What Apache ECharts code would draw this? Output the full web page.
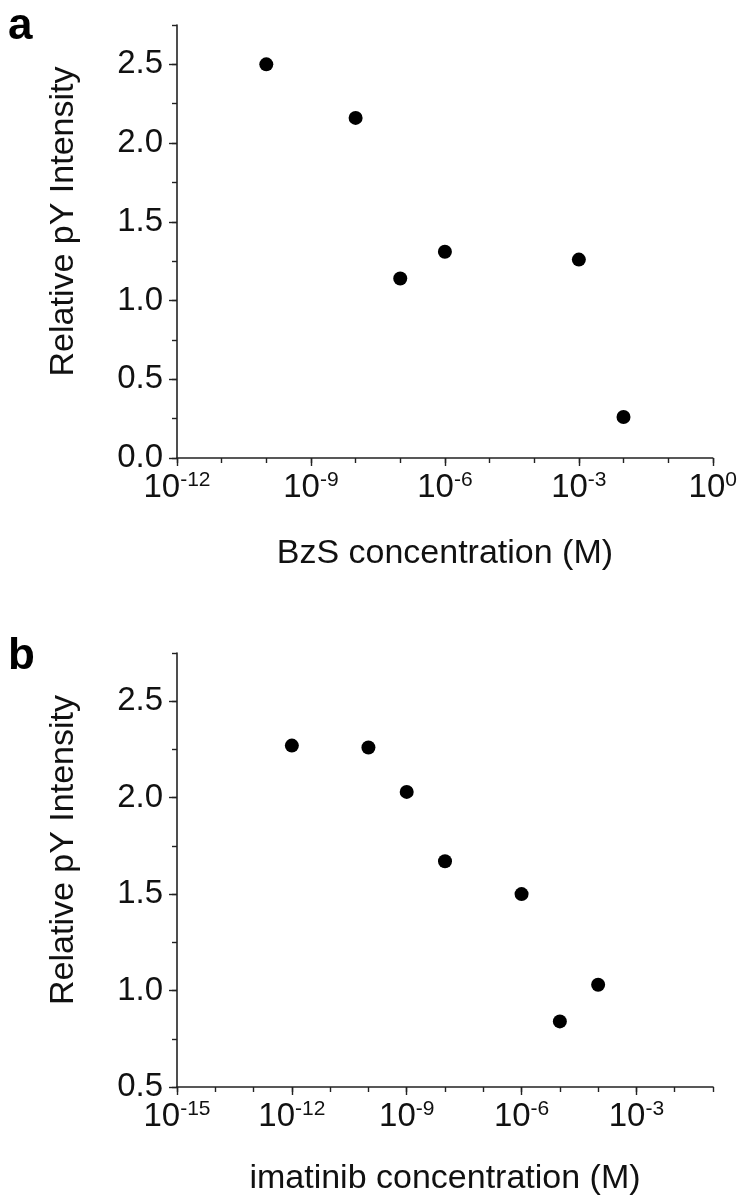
<!DOCTYPE html>
<html>
<head>
<meta charset="utf-8">
<script src="https://cdn.jsdelivr.net/npm/echarts@6/dist/echarts.min.js"></script>
<style>
html,body{margin:0;padding:0;background:#fff;}
#chart{width:740px;height:1203px;}
</style>
</head>
<body>
<div id="chart"></div>
<script>
// Panel a: BzS (x = log10 of concentration in M)
const bzsLogConc = [-10, -8, -7, -6, -3, -2];
const bzsIntensity = [2.50, 2.16, 1.14, 1.31, 1.26, 0.26];
// Panel b: imatinib (x = log10 of concentration in M)
const imaLogConc = [-12, -10, -9, -8, -6, -5, -4];
const imaIntensity = [2.27, 2.26, 2.03, 1.67, 1.50, 0.84, 1.03];

// Tick labels
const xTicksA = [-12, -9, -6, -3, 0];
const xTicksB = [-15, -12, -9, -6, -3];
const yTicksA = [0, 0.5, 1.0, 1.5, 2.0, 2.5];
const yTicksB = [0.5, 1.0, 1.5, 2.0, 2.5];

const yTitle = 'Relative pY Intensity';
const xTitleA = 'BzS concentration (M)';
const xTitleB = 'imatinib concentration (M)';

const FONT = '"Liberation Sans", Arial, sans-serif';
const AX = '#222';
const FS = 33;
const NFS = 34;

function pairs(xs, ys) { return xs.map((x, i) => [x, ys[i]]); }

function minorX(grid, min, max) {
  return {
    type: 'value', gridIndex: grid, position: 'bottom', min: min, max: max, interval: 1,
    axisLine: { show: true, onZero: false, lineStyle: { color: AX, width: 1.6 } },
    axisTick: { show: true, inside: false, length: 5, lineStyle: { color: AX, width: 1.4 } },
    axisLabel: { show: false }, splitLine: { show: false }
  };
}
function majorX(grid, min, max, ticks, name, gap) {
  return {
    type: 'value', gridIndex: grid, position: 'bottom', min: min, max: max,
    name: name, nameLocation: 'middle', nameGap: gap,
    nameTextStyle: { fontFamily: FONT, fontSize: NFS, color: '#111' },
    axisLine: { show: false, onZero: false },
    axisTick: { show: true, inside: false, length: 8, customValues: ticks, lineStyle: { color: AX, width: 1.4 } },
    axisLabel: {
      show: true, customValues: ticks, margin: 12,
      formatter: v => '{b|10}{s|' + v + '}',
      rich: {
        b: { fontFamily: FONT, fontSize: FS, color: '#111', lineHeight: 36 },
        s: { fontFamily: FONT, fontSize: 21, color: '#111', verticalAlign: 'top', lineHeight: 21 }
      }
    },
    splitLine: { show: false }
  };
}
function minorY(grid, min, max) {
  return {
    type: 'value', gridIndex: grid, position: 'left', min: min, max: max, interval: 0.25,
    axisLine: { show: true, onZero: false, lineStyle: { color: AX, width: 1.6 } },
    axisTick: { show: true, inside: false, length: 5, lineStyle: { color: AX, width: 1.4 } },
    axisLabel: { show: false }, splitLine: { show: false }
  };
}
function majorY(grid, min, max, ticks) {
  return {
    type: 'value', gridIndex: grid, position: 'left', min: min, max: max,
    name: yTitle, nameLocation: 'middle', nameGap: 96, nameRotate: 90,
    nameTextStyle: { fontFamily: FONT, fontSize: NFS, color: '#111', padding: [0, 0, 0, 40] },
    axisLine: { show: false, onZero: false },
    axisTick: { show: true, inside: false, length: 8, customValues: ticks, lineStyle: { color: AX, width: 1.4 } },
    axisLabel: {
      show: true, customValues: ticks, margin: 14,
      fontFamily: FONT, fontSize: FS, color: '#111',
      formatter: v => v.toFixed(1)
    },
    splitLine: { show: false }
  };
}

const chart = echarts.init(document.getElementById('chart'), null, { renderer: 'canvas' });
chart.setOption({
  backgroundColor: '#fff',
  animation: false,
  graphic: [
    { type: 'text', left: 8, top: 5, style: { text: 'a', font: 'bold 44px ' + FONT, fill: '#000' } },
    { type: 'text', left: 8, top: 635, style: { text: 'b', font: 'bold 44px ' + FONT, fill: '#000' } }
  ],
  grid: [
    { left: 177, top: 25, width: 536, height: 433 },
    { left: 177, top: 653, width: 536, height: 434 }
  ],
  xAxis: [
    minorX(0, -12, 0),
    majorX(0, -12, 0, xTicksA, xTitleA, 79),
    minorX(1, -15, -1),
    majorX(1, -15, -1, xTicksB, xTitleB, 75)
  ],
  yAxis: [
    minorY(0, 0, 2.75),
    majorY(0, 0, 2.75, yTicksA),
    minorY(1, 0.5, 2.75),
    majorY(1, 0.5, 2.75, yTicksB)
  ],
  series: [
    { type: 'scatter', xAxisIndex: 0, yAxisIndex: 0, data: pairs(bzsLogConc, bzsIntensity),
      symbol: 'circle', symbolSize: 14, itemStyle: { color: '#000', opacity: 1 } },
    { type: 'scatter', xAxisIndex: 2, yAxisIndex: 2, data: pairs(imaLogConc, imaIntensity),
      symbol: 'circle', symbolSize: 14, itemStyle: { color: '#000', opacity: 1 } }
  ]
});
</script>
</body>
</html>
